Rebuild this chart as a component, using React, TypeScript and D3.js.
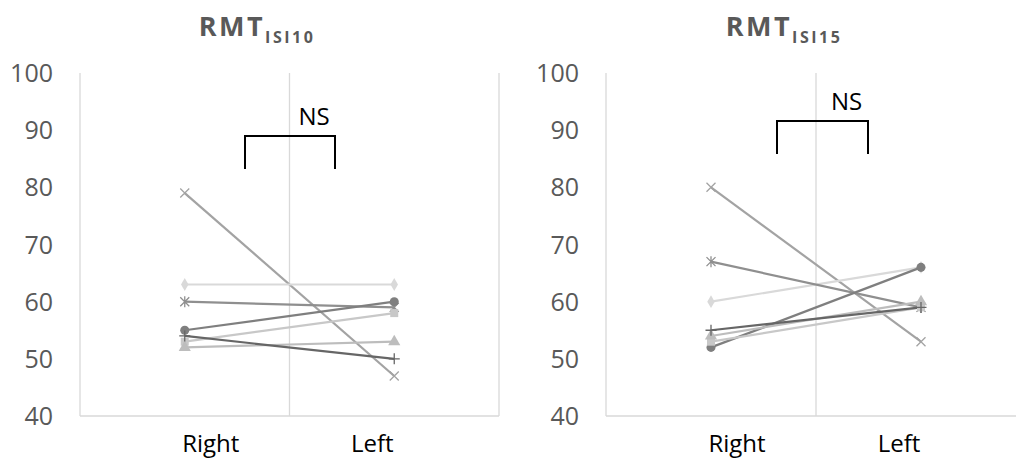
import React from "react";
import * as d3 from "d3";

// Hemisphere categories on the x axis
const sides = ["Right", "Left"];
const yTicks = [40, 50, 60, 70, 80, 90, 100];

// Subject series, values as [Right, Left]
const seriesNames = ["cross", "diamond", "asterisk", "circle", "square", "triangle", "plus"];
const isi10Cross = [79, 47];
const isi10Diamond = [63, 63];
const isi10Asterisk = [60, 59];
const isi10Circle = [55, 60];
const isi10Square = [53, 58];
const isi10Triangle = [52, 53];
const isi10Plus = [54, 50];

const isi15Cross = [80, 53];
const isi15Diamond = [60, 66];
const isi15Asterisk = [67, 59];
const isi15Circle = [52, 66];
const isi15Square = [53, 59];
const isi15Triangle = [54, 60];
const isi15Plus = [55, 59];

const seriesColors: Record<string, string> = {
  cross: "#a3a3a3",
  diamond: "#d9d9d9",
  asterisk: "#8f8f8f",
  circle: "#7f7f7f",
  square: "#c8c8c8",
  triangle: "#bdbdbd",
  plus: "#666666",
};

const W = 1016;
const H = 462;
const FONT = "'Open Sans', 'Liberation Sans', sans-serif";

type PanelProps = {
  left: number;
  right: number;
  titleX: number;
  sub: string;
  data: number[][];
  bracket: [number, number];
  bracketY: number;
};

function Marker({ kind, x, y, color }: { kind: string; x: number; y: number; color: string }) {
  const r = 4.5;
  if (kind === "cross") {
    return (
      <path
        d={`M${x - r},${y - r}L${x + r},${y + r}M${x - r},${y + r}L${x + r},${y - r}`}
        stroke={color}
        strokeWidth={1.3}
      />
    );
  }
  if (kind === "asterisk") {
    return (
      <path
        d={`M${x - r},${y - r}L${x + r},${y + r}M${x - r},${y + r}L${x + r},${y - r}M${x},${y - r - 1}L${x},${y + r + 1}`}
        stroke={color}
        strokeWidth={1.3}
      />
    );
  }
  if (kind === "plus") {
    return (
      <path
        d={`M${x - r - 1},${y}L${x + r + 1},${y}M${x},${y - r - 1}L${x},${y + r + 1}`}
        stroke={color}
        strokeWidth={1.3}
      />
    );
  }
  const sym =
    kind === "circle"
      ? d3.symbolCircle
      : kind === "square"
      ? d3.symbolSquare
      : kind === "triangle"
      ? d3.symbolTriangle
      : d3.symbolDiamond;
  const size = kind === "diamond" ? 48 : 64;
  const p = d3.symbol().type(sym).size(size)() as string;
  return <path d={p} transform={`translate(${x},${y})`} fill={color} />;
}

function Panel({ left, right, titleX, sub, data, bracket, bracketY }: PanelProps) {
  const x = d3.scaleBand<string>().domain(sides).range([left, right]).padding(0);
  const y = d3.scaleLinear().domain([40, 100]).range([416, 73]);
  const cx = (s: string) => (x(s) as number) + x.bandwidth() / 2;
  const line = d3
    .line<number>()
    .x((_, i) => cx(sides[i]))
    .y((v) => y(v));
  const grid = [left, left + x.bandwidth(), right];
  const labelOffsets = [26, -22];
  return (
    <g>
      {grid.map((gx, i) => (
        <line key={i} x1={gx} x2={gx} y1={y(100)} y2={y(40)} stroke="#d9d9d9" strokeWidth={1.3} />
      ))}
      <line x1={left} x2={right} y1={y(40)} y2={y(40)} stroke="#d9d9d9" strokeWidth={1.3} />
      {yTicks.map((t) => (
        <text
          key={t}
          x={left - 27}
          y={y(t) + 9}
          textAnchor="end"
          fontFamily={FONT}
          fontSize={25}
          fill="#595959"
        >
          {t}
        </text>
      ))}
      {sides.map((s, i) => (
        <text
          key={s}
          x={cx(s) + labelOffsets[i]}
          y={452}
          textAnchor="middle"
          fontFamily={FONT}
          fontSize={24}
          fill="#000"
        >
          {s}
        </text>
      ))}
      <text x={titleX} y={36} textAnchor="middle" fontFamily={FONT} fill="#595959" fontWeight="bold">
        <tspan fontSize={27} letterSpacing={2.5}>RMT</tspan>
        <tspan fontSize={16} dy={7} letterSpacing={2.5}>{sub}</tspan>
      </text>
      {data.map((vals, i) => (
        <path key={i} d={line(vals) as string} fill="none" stroke={seriesColors[seriesNames[i]]} strokeWidth={2.2} />
      ))}
      {data.map((vals, i) =>
        vals.map((v, j) => (
          <Marker key={`${i}-${j}`} kind={seriesNames[i]} x={cx(sides[j])} y={y(v)} color={seriesColors[seriesNames[i]]} />
        ))
      )}
      <path
        d={`M${bracket[0]},${bracketY + 33}V${bracketY}H${bracket[1]}V${bracketY + 33}`}
        fill="none"
        stroke="#000"
        strokeWidth={2}
      />
      <text
        x={(bracket[0] + bracket[1]) / 2 + 24}
        y={bracketY - 11}
        textAnchor="middle"
        fontFamily={FONT}
        fontSize={24}
        fill="#000"
      >
        NS
      </text>
    </g>
  );
}

export default function App() {
  const isi10 = [isi10Cross, isi10Diamond, isi10Asterisk, isi10Circle, isi10Square, isi10Triangle, isi10Plus];
  const isi15 = [isi15Cross, isi15Diamond, isi15Asterisk, isi15Circle, isi15Square, isi15Triangle, isi15Plus];
  return (
    <svg width={W} height={H} style={{ position: "absolute", left: 0, top: 0, background: "#fff" }}>
      <rect width={W} height={H} fill="#fff" />
      <Panel left={80} right={499} titleX={257} sub="ISI10" data={isi10} bracket={[245, 335]} bracketY={136} />
      <Panel left={606} right={1026} titleX={784} sub="ISI15" data={isi15} bracket={[777, 868]} bracketY={121} />
    </svg>
  );
}
